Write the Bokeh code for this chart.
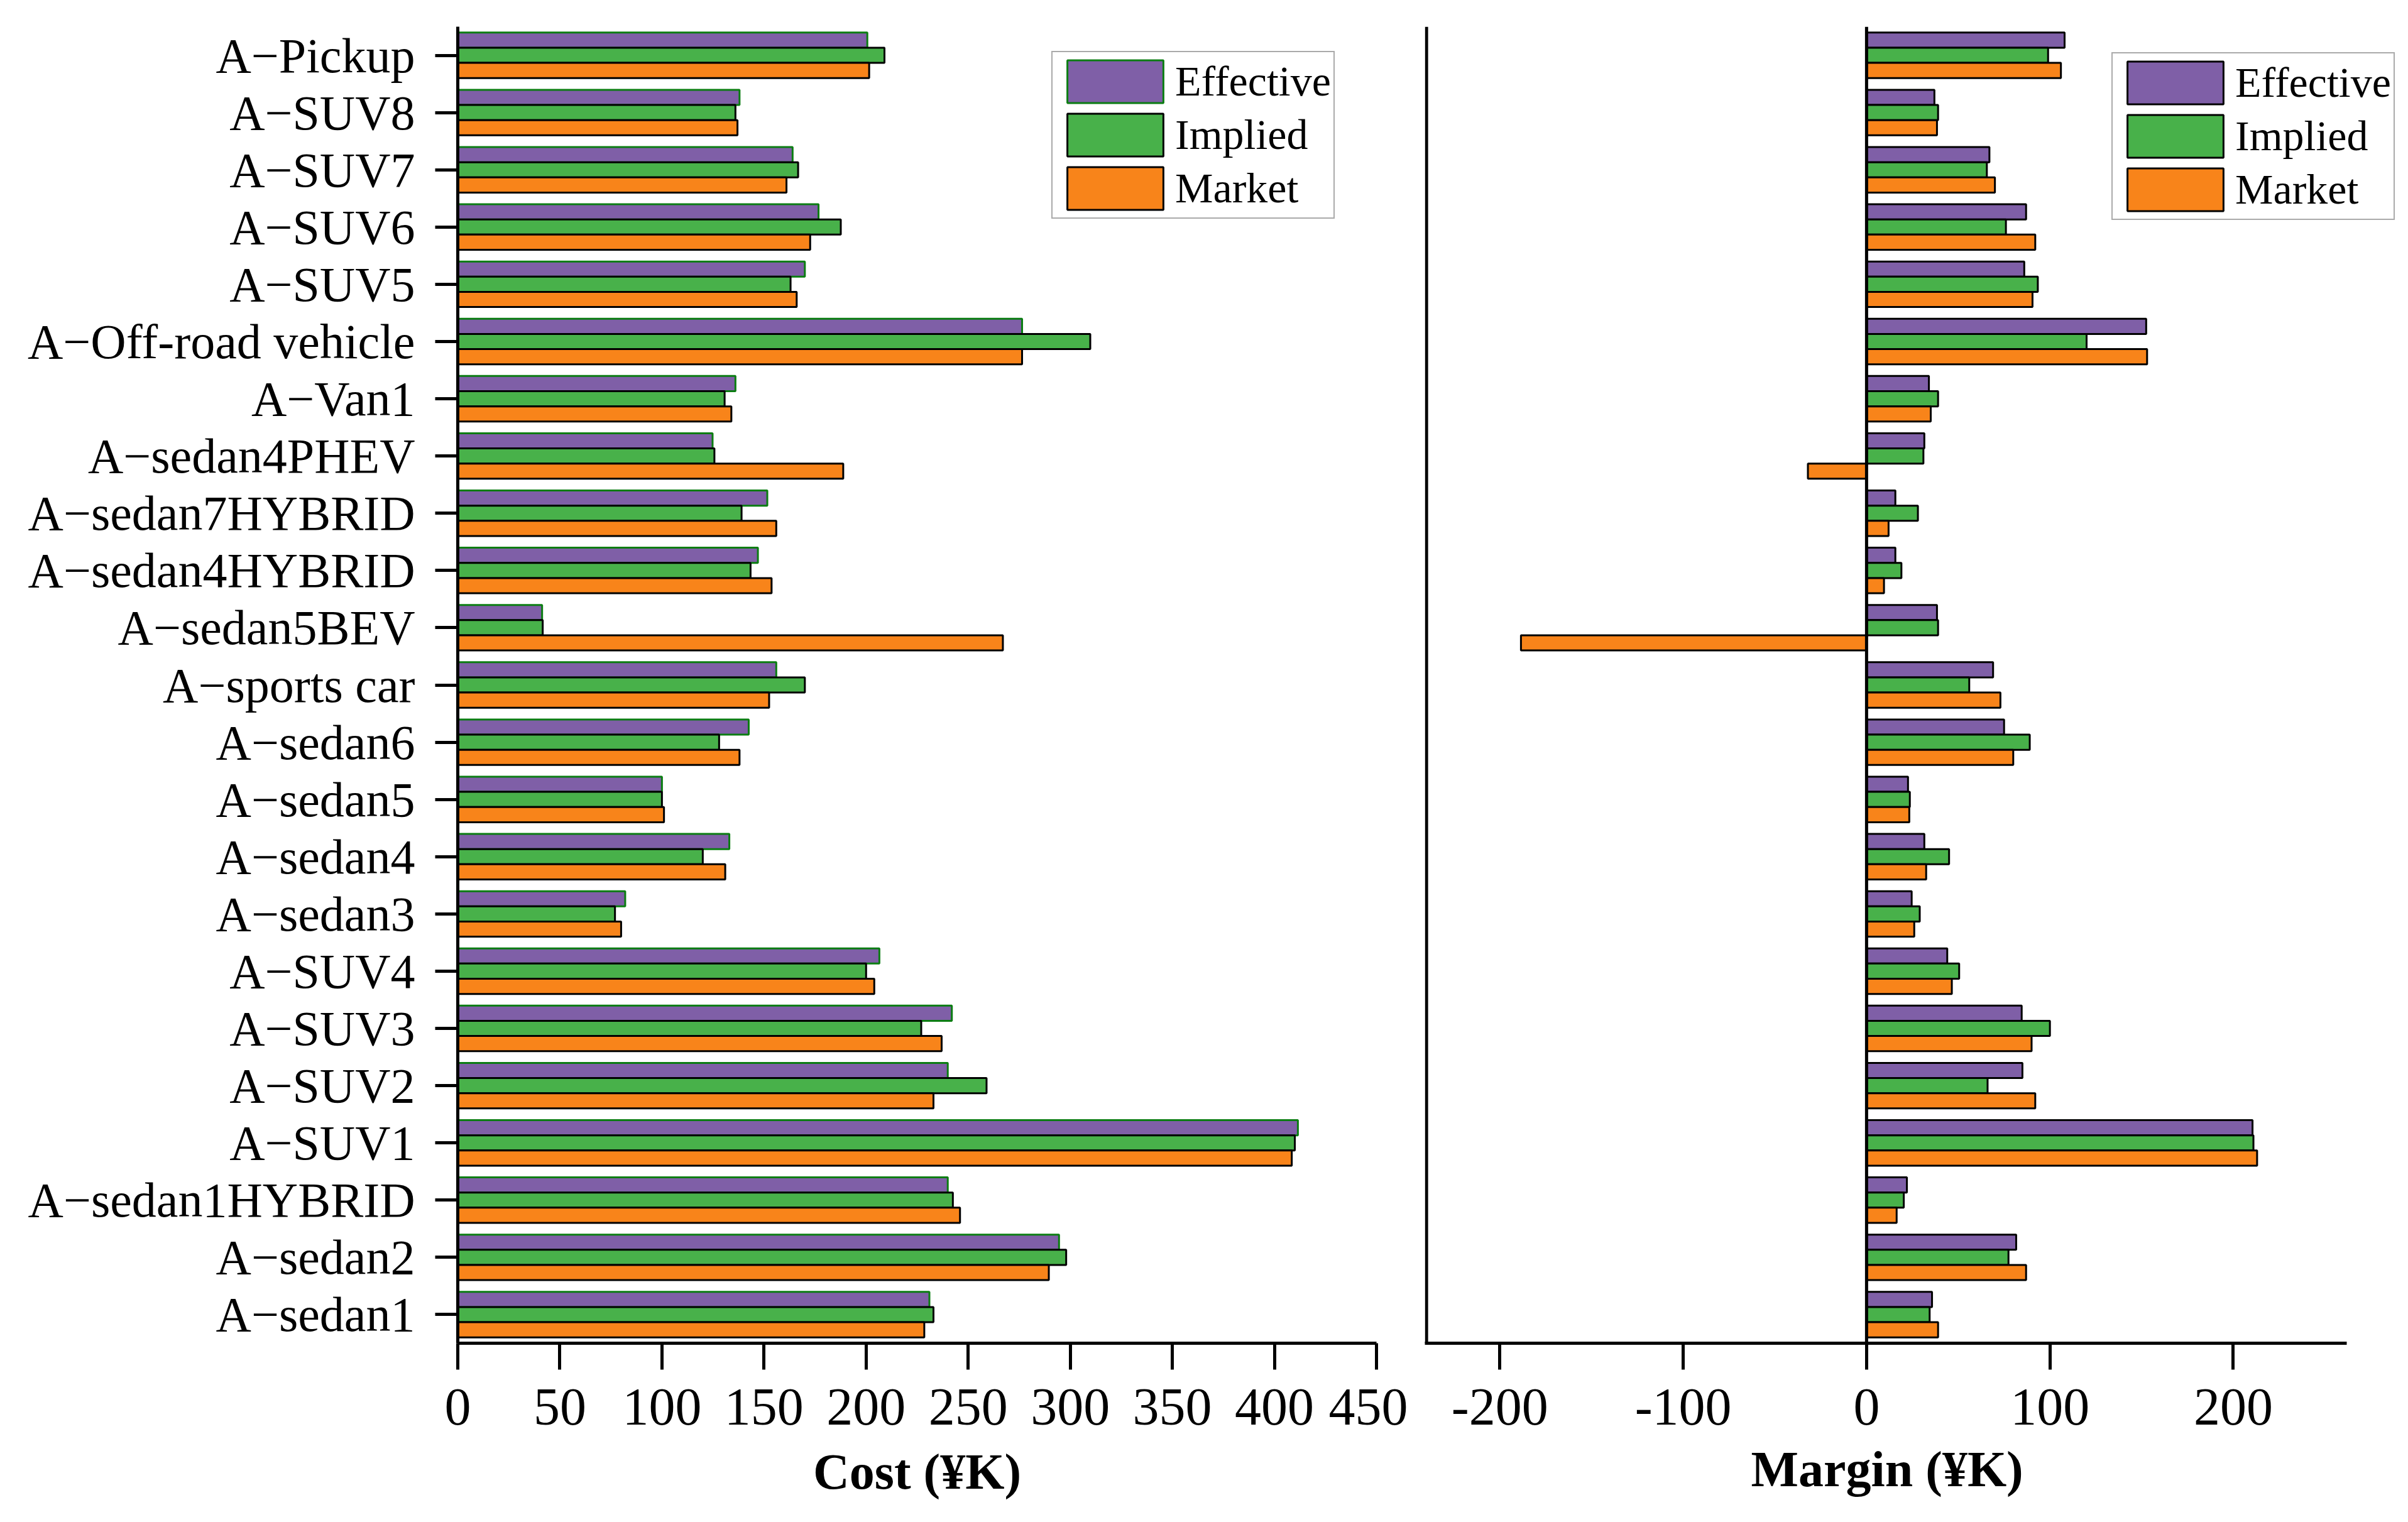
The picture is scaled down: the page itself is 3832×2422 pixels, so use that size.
from bokeh.plotting import figure
from bokeh.layouts import row
from bokeh.models import ColumnDataSource, FactorRange, FixedTicker, Span, Legend, LegendItem, Title
from bokeh.transform import dodge
from bokeh.embed import file_html
from bokeh.resources import INLINE

# Categories, top to bottom as in the reference
categories = ["A\u2212Pickup", "A\u2212SUV8", "A\u2212SUV7", "A\u2212SUV6", "A\u2212SUV5",
              "A\u2212Off-road vehicle", "A\u2212Van1", "A\u2212sedan4PHEV", "A\u2212sedan7HYBRID",
              "A\u2212sedan4HYBRID", "A\u2212sedan5BEV", "A\u2212sports car", "A\u2212sedan6",
              "A\u2212sedan5", "A\u2212sedan4", "A\u2212sedan3", "A\u2212SUV4", "A\u2212SUV3",
              "A\u2212SUV2", "A\u2212SUV1", "A\u2212sedan1HYBRID", "A\u2212sedan2", "A\u2212sedan1"]

cost_effective = [200.6, 138, 164, 176.7, 170, 276.4, 136, 124.8, 151.6, 147, 41.3, 156,
                  142.5, 100, 133, 82, 206.5, 242, 240, 411.5, 240, 294.5, 231]
cost_implied = [209, 136, 166.7, 187.6, 163, 309.8, 130.7, 125.7, 139, 143.4, 41.6, 170,
                128, 100, 120, 77, 200, 227, 259, 410, 242.5, 298, 233]
cost_market = [201.5, 137, 161, 172.6, 166, 276.4, 134, 188.8, 156, 153.7, 267, 152.5,
               138, 101, 131, 80, 204, 237, 233, 408.5, 246, 289.5, 228.5]

margin_effective = [108, 37, 67, 87, 86, 152.5, 34, 31.5, 15.7, 15.7, 38.4, 69,
                    75, 22.6, 31.5, 24.6, 44, 84.6, 85, 210.5, 22, 81.6, 35.7]
margin_implied = [99, 39, 65.6, 76, 93.4, 120, 39, 31, 28, 19, 39, 56,
                  89, 23.6, 45, 29, 50.5, 100, 66, 211, 20.3, 77.4, 34.4]
margin_market = [106, 38.4, 70, 92, 90.5, 153, 35, -32, 12, 9.5, -188.5, 73,
                 80, 23.3, 32.5, 26, 46.5, 90, 92, 213, 16.4, 87, 39]

series_names = ["Effective", "Implied", "Market"]
cost_ticks = [0, 50, 100, 150, 200, 250, 300, 350, 400, 450]
margin_ticks = [-200, -100, 0, 100, 200]

PURPLE = "#7f5fa7"
GREEN = "#48b14a"
ORANGE = "#f8841a"
EDGE_GREEN = "#0b7d12"
FONT = "Liberation Serif"

src = ColumnDataSource(dict(cat=categories,
                            ce=cost_effective, ci=cost_implied, cm=cost_market,
                            me=margin_effective, mi=margin_implied, mm=margin_market))

BAR_H = 0.265
FRAME_H = 2095


def style_common(p):
    p.xgrid.grid_line_color = None
    p.ygrid.grid_line_color = None
    p.outline_line_color = None
    p.background_fill_color = "white"
    p.border_fill_color = "white"
    for ax in p.xaxis:
        ax.axis_line_width = 5
        ax.major_tick_line_width = 5
        ax.major_tick_out = 42
        ax.major_tick_in = 0
        ax.minor_tick_line_color = None
        ax.major_label_text_font = FONT
        ax.major_label_text_font_size = "84px"
        ax.major_label_text_color = "black"
        ax.major_label_standoff = 31
        ax.axis_label_text_font = FONT
        ax.axis_label_text_font_size = "80px"
        ax.axis_label_text_font_style = "bold"
        ax.axis_label_text_color = "black"
        ax.axis_label_standoff = 28


def style_legend(lg):
    lg.label_text_font = FONT
    lg.label_text_font_size = "68px"
    lg.label_text_color = "black"
    lg.glyph_width = 191
    lg.glyph_height = 85
    lg.spacing = 0
    lg.padding = 4
    lg.margin = 0
    lg.label_standoff = 0
    lg.label_height = 75
    lg.border_line_color = "#555555"
    lg.border_line_width = 2
    lg.background_fill_alpha = 1.0


y_range = FactorRange(factors=categories[::-1], range_padding=0)

# ---------------- Left: Cost ----------------
p1 = figure(y_range=y_range, x_range=(0, 450), frame_width=1462, frame_height=FRAME_H,
            min_border_left=728, min_border_top=42, min_border_right=50, min_border_bottom=250,
            output_backend="svg", toolbar_location=None)
r1 = p1.hbar(y=dodge("cat", BAR_H, range=y_range), left=0, right="ce", height=BAR_H, source=src,
             fill_color=PURPLE, line_color=EDGE_GREEN, line_width=3)
r2 = p1.hbar(y=dodge("cat", 0, range=y_range), left=0, right="ci", height=BAR_H, source=src,
             fill_color=GREEN, line_color="black", line_width=3)
r3 = p1.hbar(y=dodge("cat", -BAR_H, range=y_range), left=0, right="cm", height=BAR_H, source=src,
             fill_color=ORANGE, line_color="black", line_width=3)
style_common(p1)
p1.xaxis.ticker = FixedTicker(ticks=cost_ticks)
p1.xaxis.axis_label = "Cost (\u00a5K)"
p1.yaxis.axis_line_width = 5
p1.yaxis.major_tick_line_width = 5
p1.yaxis.major_tick_out = 36
p1.yaxis.major_tick_in = 0
p1.yaxis.major_label_text_font = FONT
p1.yaxis.major_label_text_font_size = "78px"
p1.yaxis.major_label_text_color = "black"
p1.yaxis.major_label_standoff = 32

lg1 = Legend(items=[LegendItem(label=series_names[0], renderers=[r1]),
                    LegendItem(label=series_names[1], renderers=[r2]),
                    LegendItem(label=series_names[2], renderers=[r3])],
             location=(945, 1789))
style_legend(lg1)
p1.add_layout(lg1, "center")

# ---------------- Right: Margin ----------------
X0, X1, XAXIS_END = -240.9, 289.3, 262
p2 = figure(y_range=y_range, x_range=(X0, X1), frame_width=1547, frame_height=FRAME_H,
            min_border_left=27, min_border_top=42, min_border_right=0, min_border_bottom=250,
            output_backend="svg", toolbar_location=None)
q1 = p2.hbar(y=dodge("cat", BAR_H, range=y_range), left=0, right="me", height=BAR_H, source=src,
             fill_color=PURPLE, line_color="black", line_width=3)
q2 = p2.hbar(y=dodge("cat", 0, range=y_range), left=0, right="mi", height=BAR_H, source=src,
             fill_color=GREEN, line_color="black", line_width=3)
q3 = p2.hbar(y=dodge("cat", -BAR_H, range=y_range), left=0, right="mm", height=BAR_H, source=src,
             fill_color=ORANGE, line_color="black", line_width=3)
style_common(p2)
p2.xaxis.ticker = FixedTicker(ticks=margin_ticks)
p2.xaxis.major_label_overrides = {t: str(t) for t in margin_ticks}
p2.xaxis.bounds = (X0, XAXIS_END)
p2.yaxis.visible = False
p2.add_layout(Span(location=-240.0, dimension="height", line_color="black", line_width=5))
p2.add_layout(Span(location=0, dimension="height", line_color="black", line_width=5))
p2.add_layout(Title(text="Margin (\u00a5K)", align="left", offset=519, standoff=45,
                    text_font=FONT, text_font_size="80px", text_font_style="bold",
                    text_color="black"), "below")

lg2 = Legend(items=[LegendItem(label=series_names[0], renderers=[q1]),
                    LegendItem(label=series_names[1], renderers=[q2]),
                    LegendItem(label=series_names[2], renderers=[q3])],
             location=(1093, 1787))
style_legend(lg2)
p2.add_layout(lg2, "center")

layout = row(p1, p2, spacing=0)
open("out.html", "w").write(file_html(layout, INLINE))
